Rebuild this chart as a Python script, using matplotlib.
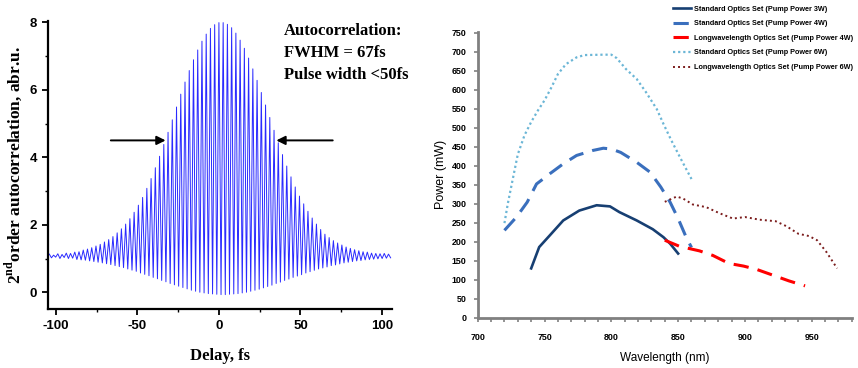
import numpy as np
import matplotlib
matplotlib.use('Agg')
import matplotlib.pyplot as plt

# ---- left panel: interferometric autocorrelation (fringe peaks / troughs)
fringe_step = 2.6
fringe_delay = [-104.0, -101.4, -98.8, -96.2, -93.6, -91.0, -88.4, -85.8, -83.2, -80.6,
                -78.0, -75.4, -72.8, -70.2, -67.6, -65.0, -62.4, -59.8, -57.2, -54.6,
                -52.0, -49.4, -46.8, -44.2, -41.6, -39.0, -36.4, -33.8, -31.2, -28.6,
                -26.0, -23.4, -20.8, -18.2, -15.6, -13.0, -10.4, -7.8, -5.2, -2.6,
                0.0, 2.6, 5.2, 7.8, 10.4, 13.0, 15.6, 18.2, 20.8, 23.4,
                26.0, 28.6, 31.2, 33.8, 36.4, 39.0, 41.6, 44.2, 46.8, 49.4,
                52.0, 54.6, 57.2, 59.8, 62.4, 65.0, 67.6, 70.2, 72.8, 75.4,
                78.0, 80.6, 83.2, 85.8, 88.4, 91.0, 93.6, 96.2, 98.8, 101.4, 104.0]
fringe_top = [1.13, 1.10, 1.14, 1.12, 1.16, 1.15, 1.19, 1.20, 1.25, 1.28,
              1.32, 1.37, 1.42, 1.49, 1.56, 1.65, 1.76, 1.88, 2.02, 2.18,
              2.37, 2.58, 2.81, 3.08, 3.37, 3.69, 4.03, 4.38, 4.74, 5.11,
              5.49, 5.87, 6.23, 6.57, 6.89, 7.18, 7.44, 7.65, 7.82, 7.93,
              7.99, 7.99, 7.94, 7.84, 7.68, 7.47, 7.23, 6.94, 6.62, 6.28,
              5.92, 5.55, 5.18, 4.80, 4.43, 4.08, 3.74, 3.42, 3.12, 2.85,
              2.62, 2.40, 2.20, 2.02, 1.86, 1.72, 1.62, 1.53, 1.46, 1.40,
              1.34, 1.30, 1.26, 1.23, 1.20, 1.19, 1.16, 1.15, 1.14, 1.15, 1.13]
fringe_bottom = [1.02, 1.04, 1.00, 1.03, 1.00, 1.01, 0.97, 0.96, 0.95, 0.93,
                 0.91, 0.89, 0.87, 0.845, 0.82, 0.79, 0.76, 0.73, 0.69, 0.655,
                 0.62, 0.57, 0.53, 0.49, 0.44, 0.40, 0.35, 0.31, 0.26, 0.22,
                 0.18, 0.14, 0.10, 0.06, 0.03, 0.00, -0.02, -0.04, -0.05, -0.06,
                 -0.07, -0.07, -0.06, -0.05, -0.04, -0.02, 0.00, 0.03, 0.06, 0.09,
                 0.13, 0.17, 0.21, 0.26, 0.30, 0.35, 0.39, 0.44, 0.48, 0.52,
                 0.57, 0.61, 0.65, 0.69, 0.72, 0.75, 0.79, 0.81, 0.84, 0.87,
                 0.89, 0.91, 0.93, 0.94, 0.96, 0.97, 0.98, 0.99, 1.00, 1.01, 1.02]
fwhm_edges = [-31, 33.5]
fwhm_level = 4.5
notes = ['Autocorrelation:', 'FWHM = 67fs', 'Pulse width <50fs']

# ---- right panel: output power vs wavelength
std3_wl = [740, 746, 754, 764, 776, 789, 799, 806, 819, 831, 839, 844, 850]
std3_p = [130, 186, 217, 256, 282, 296, 293, 278, 256, 233, 212, 195, 169]
std4_wl = [720, 729, 737, 744, 750, 754, 764, 774, 786, 794, 800, 807, 819, 829, 837, 844, 850, 856, 860]
std4_p = [230, 265, 304, 352, 368, 379, 405, 427, 440, 446, 444, 435, 409, 383, 344, 304, 261, 212, 185]
lw4_wl = [840, 851, 866, 876, 888, 899, 909, 921, 933, 945]
lw4_p = [204, 188, 176, 164, 143, 136, 127, 112, 97, 84]
std6_wl = [720, 722.5, 726, 730, 735, 740, 745, 750, 755, 760, 766, 774, 780, 794, 800, 804, 811, 819, 826, 834, 839, 845, 852, 860]
std6_p = [249, 300, 361, 430, 480, 515, 545, 572, 605, 641, 667, 685, 691, 692, 692, 683, 654, 628, 593, 549, 510, 466, 418, 365]
lw6_wl = [840, 849, 854, 861, 871, 881, 891, 900, 911, 923, 931, 940, 948, 954, 961, 969]
lw6_p = [305, 319, 313, 298, 291, 275, 261, 265, 258, 254, 241, 221, 215, 204, 173, 130]
labels = ['Standard Optics Set (Pump Power 3W)',
          'Standard Optics Set (Pump Power 4W)',
          'Longwavelength Optics Set (Pump Power 4W)',
          'Standard Optics Set (Pump Power 6W)',
          'Longwavelength Optics Set (Pump Power 6W)']

plt.rcParams['mathtext.fontset'] = 'custom'
plt.rcParams['mathtext.rm'] = 'Liberation Serif:bold'
plt.rcParams['axes.unicode_minus'] = False

fig = plt.figure(figsize=(8.58, 3.68), dpi=100)

# left
ax = fig.add_axes([0.0556, 0.160, 0.401, 0.784])
fd = np.array(fringe_delay)
x = np.column_stack([fd, fd + fringe_step / 2]).ravel()
y = np.column_stack([fringe_top, fringe_bottom]).ravel()
ax.plot(x, y, color='#2a2aff', lw=0.7)
ax.set_xlim(-105, 106)
ax.set_ylim(-0.5, 8.05)
for s in ['top', 'right']:
    ax.spines[s].set_visible(False)
for s in ['left', 'bottom']:
    ax.spines[s].set_linewidth(1.6)
ax.set_xticks([-100, -50, 0, 50, 100])
ax.set_xticks([-75, -25, 25, 75], minor=True)
ax.set_yticks([0, 2, 4, 6, 8])
ax.set_yticks([1, 3, 5, 7], minor=True)
ax.tick_params(which='major', length=4, width=1.3, labelsize=9.5)
ax.tick_params(which='minor', length=2.5, width=1.0)
for t in ax.get_xticklabels() + ax.get_yticklabels():
    t.set_family('Liberation Sans')
    t.set_fontweight('bold')
ax.set_xlabel('Delay, fs', family='Liberation Serif', fontweight='bold', fontsize=12, labelpad=12)
ax.set_ylabel('2$^{\\mathrm{nd}}$order autocorrelation, abr.u.', family='Liberation Serif',
              fontweight='bold', fontsize=12.5, labelpad=4)
ax.annotate('', xy=(fwhm_edges[0], fwhm_level), xytext=(-68, fwhm_level),
            arrowprops=dict(arrowstyle='-|>', color='k', lw=1.4, mutation_scale=13))
ax.annotate('', xy=(fwhm_edges[1], fwhm_level), xytext=(71.5, fwhm_level),
            arrowprops=dict(arrowstyle='-|>', color='k', lw=1.4, mutation_scale=13))
for i, s in enumerate(notes):
    ax.text(40, 7.75 - i * 0.66, s, family='Liberation Serif', fontweight='bold',
            fontsize=12, va='center', ha='left')

# right
ax2 = fig.add_axes([0.5568, 0.1364, 0.436, 0.777])
ax2.plot(std3_wl, std3_p, color='#173f72', lw=1.9, label=labels[0])
ax2.plot(std4_wl, std4_p, color='#3a6fbd', lw=2.2, dashes=(5, 3), label=labels[1])
ax2.plot(lw4_wl, lw4_p, color='#ff0000', lw=2.2, dashes=(5, 3), label=labels[2])
ax2.plot(std6_wl, std6_p, color='#6bb6d6', lw=1.6, dashes=(1, 1.3), label=labels[3])
ax2.plot(lw6_wl, lw6_p, color='#7b1c1c', lw=1.4, dashes=(1, 1.6), label=labels[4])
ax2.set_xlim(700, 980)
ax2.set_ylim(0, 752)
for s in ['top', 'right']:
    ax2.spines[s].set_visible(False)
for s in ['left', 'bottom']:
    ax2.spines[s].set_linewidth(2)
    ax2.spines[s].set_color('#808080')
ax2.set_xticks(np.arange(700, 951, 50))
ax2.set_xticks(np.arange(700, 981, 10), minor=True)
ax2.set_yticks(np.arange(0, 751, 50))
ax2.tick_params(which='both', color='#808080', width=1.2, length=3, labelsize=6.4)
ax2.tick_params(axis='x', pad=8)
ax2.tick_params(axis='y', pad=5)
for t in ax2.get_xticklabels() + ax2.get_yticklabels():
    t.set_family('Liberation Sans')
    t.set_fontweight('bold')
ax2.set_xlabel('Wavelength (nm)', family='Liberation Sans', fontsize=8.5, labelpad=7)
ax2.set_ylabel('Power (mW)', family='Liberation Sans', fontsize=9, labelpad=3)
ax2.legend(loc='upper left', bbox_to_anchor=(0.784, 0.985), bbox_transform=fig.transFigure,
           frameon=False, prop={'family': 'Liberation Sans', 'size': 5.2, 'weight': 'bold'},
           handlelength=2.6, handletextpad=0.3, labelspacing=1.05, borderpad=0, borderaxespad=0)

fig.savefig('out.png', dpi=100)
